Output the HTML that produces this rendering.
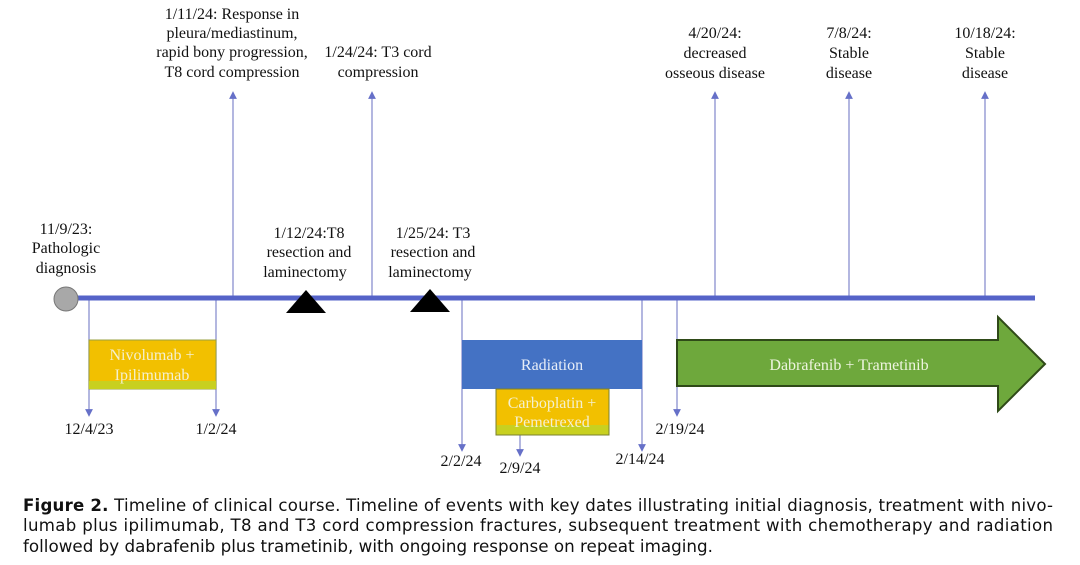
<!DOCTYPE html>
<html><head><meta charset="utf-8"><style>
html,body{margin:0;padding:0;background:#fff;}
svg{display:block;}
.t{font-family:"Liberation Serif",serif;font-size:16px;fill:#111;text-anchor:middle;}
.w{font-family:"Liberation Serif",serif;font-size:16px;fill:#f4f0d0;text-anchor:middle;}
.c{font-family:"DejaVu Sans",sans-serif;font-size:16.6px;fill:#111;}
</style></head><body>
<svg width="1080" height="565" viewBox="0 0 1080 565" xmlns="http://www.w3.org/2000/svg">
<defs>
<marker id="a" markerWidth="6" markerHeight="6" refX="3" refY="3" orient="auto"><path d="M0,0L6,3L0,6z" fill="#6670c8"/></marker>
</defs>
<g stroke="#8a90d0" stroke-width="1.3" fill="none">
<line x1="233" y1="298" x2="233" y2="95" marker-end="url(#a)"/>
<line x1="372" y1="298" x2="372" y2="95" marker-end="url(#a)"/>
<line x1="715" y1="298" x2="715" y2="95" marker-end="url(#a)"/>
<line x1="849" y1="298" x2="849" y2="95" marker-end="url(#a)"/>
<line x1="985" y1="298" x2="985" y2="95" marker-end="url(#a)"/>
<line x1="89" y1="298" x2="89" y2="413" marker-end="url(#a)"/>
<line x1="216" y1="298" x2="216" y2="413" marker-end="url(#a)"/>
<line x1="462" y1="298" x2="462" y2="448" marker-end="url(#a)"/>
<line x1="642" y1="298" x2="642" y2="448" marker-end="url(#a)"/>
<line x1="677" y1="298" x2="677" y2="413" marker-end="url(#a)"/>
<line x1="520" y1="435" x2="520" y2="453" marker-end="url(#a)"/>
</g>
<line x1="75" y1="298" x2="1035" y2="298" stroke="#5563c8" stroke-width="5"/>
<circle cx="66" cy="299" r="12" fill="#a8a8a8" stroke="#777" stroke-width="1"/>
<polygon points="286,313 326,313 306,290" fill="#000"/>
<polygon points="410,312 450,312 430,289" fill="#000"/>
<rect x="89" y="340" width="127" height="49" fill="#f2c000" stroke="#9aa040" stroke-width="1"/>
<rect x="89" y="381" width="127" height="8" fill="#c8d020"/>
<text class="w" x="152" y="360">Nivolumab +</text>
<text class="w" x="152" y="380">Ipilimumab</text>
<rect x="462" y="340" width="180" height="49" fill="#4472c4"/>
<text class="w" x="552" y="370" style="fill:#e8eef8">Radiation</text>
<rect x="496" y="389" width="113" height="46" fill="#f2c000" stroke="#7a8030" stroke-width="1"/>
<rect x="496.5" y="425" width="112" height="9.5" fill="#c8d020"/>
<text class="w" x="552" y="408">Carboplatin +</text>
<text class="w" x="552" y="427">Pemetrexed</text>
<polygon points="677,340 998,340 998,317 1045,364 998,411 998,386 677,386" fill="#6ea83c" stroke="#2f4a18" stroke-width="2"/>
<text class="w" x="849" y="370" style="fill:#eef5e0">Dabrafenib  + Trametinib</text>
<text class="t" x="232" y="19">1/11/24:  Response in</text>
<text class="t" x="232" y="38">pleura/mediastinum,</text>
<text class="t" x="232" y="57">rapid bony progression,</text>
<text class="t" x="232" y="77">T8 cord compression</text>
<text class="t" x="378" y="57">1/24/24:  T3 cord</text>
<text class="t" x="378" y="77">compression</text>
<text class="t" x="715" y="38">4/20/24:</text>
<text class="t" x="715" y="58">decreased</text>
<text class="t" x="715" y="78">osseous disease</text>
<text class="t" x="849" y="38">7/8/24:</text>
<text class="t" x="849" y="58">Stable</text>
<text class="t" x="849" y="78">disease</text>
<text class="t" x="985" y="38">10/18/24:</text>
<text class="t" x="985" y="58">Stable</text>
<text class="t" x="985" y="78">disease</text>
<text class="t" x="66" y="234">11/9/23:</text>
<text class="t" x="66" y="253">Pathologic</text>
<text class="t" x="66" y="273">diagnosis</text>
<text class="t" x="309" y="238">1/12/24:T8</text>
<text class="t" x="309" y="257">resection and</text>
<text class="t" x="305" y="277">laminectomy</text>
<text class="t" x="433" y="238">1/25/24:  T3</text>
<text class="t" x="433" y="257">resection and</text>
<text class="t" x="430" y="277">laminectomy</text>
<text class="t" x="89" y="434">12/4/23</text>
<text class="t" x="216" y="434">1/2/24</text>
<text class="t" x="461" y="466">2/2/24</text>
<text class="t" x="520" y="473">2/9/24</text>
<text class="t" x="640" y="464">2/14/24</text>
<text class="t" x="680" y="434">2/19/24</text>
<text class="c" x="23" y="511" textLength="1030" lengthAdjust="spacing"><tspan font-weight="bold">Figure 2.</tspan> Timeline of clinical course. Timeline of events with key dates illustrating initial diagnosis, treatment with nivo-</text>
<text class="c" x="23" y="531" textLength="1030" lengthAdjust="spacing">lumab plus ipilimumab, T8 and T3 cord compression fractures, subsequent treatment with chemotherapy and radiation</text>
<text class="c" x="23" y="552" textLength="690" lengthAdjust="spacingAndGlyphs">followed by dabrafenib plus trametinib, with ongoing response on repeat imaging.</text>
</svg>
</body></html>
